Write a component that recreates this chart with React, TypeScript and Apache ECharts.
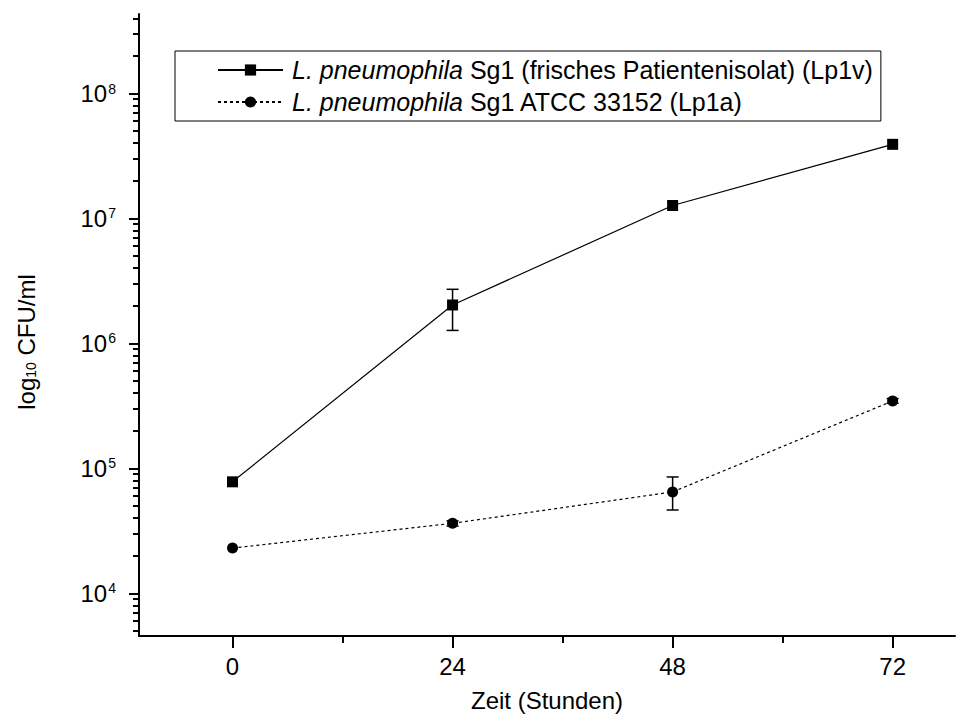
import React, { useEffect, useRef } from "react";
import * as echarts from "echarts";

// ---- data ----
const hours = [0, 24, 48, 72];
const seriesNames = [
  "L. pneumophila Sg1 (frisches Patientenisolat) (Lp1v)",
  "L. pneumophila Sg1 ATCC 33152 (Lp1a)",
];
const lp1v = [7.8e4, 2.03e6, 1.27e7, 3.92e7];
const lp1a = [2.3e4, 3.63e4, 6.47e4, 3.46e5];
// [hour, low, high]
const lp1vErrors = [[24, 1.27e6, 2.71e6]];
const lp1aErrors = [
  [24, 3.45e4, 3.8e4],
  [48, 4.64e4, 8.53e4],
  [72, 3.32e5, 3.62e5],
];
const xMajorTicks = [0, 24, 48, 72];
const xMinorTicks = [12, 36, 60];
const yMajorTicks = [1e4, 1e5, 1e6, 1e7, 1e8];
const yMinorTicks = [
  5e3, 6e3, 7e3, 8e3, 9e3,
  2e4, 3e4, 4e4, 5e4, 6e4, 7e4, 8e4, 9e4,
  2e5, 3e5, 4e5, 5e5, 6e5, 7e5, 8e5, 9e5,
  2e6, 3e6, 4e6, 5e6, 6e6, 7e6, 8e6, 9e6,
  2e7, 3e7, 4e7, 5e7, 6e7, 7e7, 8e7, 9e7,
  2e8, 3e8, 4e8,
];
const xMin = -10.2;
const xMax = 78.8;
const yMin = 4550;
const yMax = 4.33e8;

const FONT = "'Liberation Sans', Arial, Helvetica, sans-serif";
const lg = (v: number) => Math.log10(v);

export default function App() {
  const ref = useRef<HTMLDivElement>(null);
  useEffect(() => {
    if (!ref.current) return;
    const chart = echarts.init(ref.current, undefined, { renderer: "svg" });

    const errRender = (params: any, api: any) => {
      const x = api.value(0);
      const lo = api.value(1);
      const hi = api.value(2);
      const pLo = api.coord([x, lo]);
      const pHi = api.coord([x, hi]);
      const w = 6;
      const style = { stroke: "#000", lineWidth: 1.5 };
      return {
        type: "group",
        children: [
          { type: "line", shape: { x1: pLo[0], y1: pLo[1], x2: pHi[0], y2: pHi[1] }, style },
          { type: "line", shape: { x1: pLo[0] - w, y1: pLo[1], x2: pLo[0] + w, y2: pLo[1] }, style },
          { type: "line", shape: { x1: pHi[0] - w, y1: pHi[1], x2: pHi[0] + w, y2: pHi[1] }, style },
        ],
      };
    };

    const yAxisBase = {
      type: "value",
      min: lg(yMin),
      max: lg(yMax),
      position: "left",
      splitLine: { show: false },
    };
    const xAxisBase = {
      type: "value",
      min: xMin,
      max: xMax,
      position: "bottom",
      splitLine: { show: false },
    };

    chart.setOption({
      animation: false,
      backgroundColor: "#fff",
      textStyle: { fontFamily: FONT, color: "#000" },
      grid: { left: 139, right: 1, top: 14, bottom: 91, containLabel: false },
      legend: {
        data: seriesNames,
        orient: "vertical",
        left: 175,
        top: 51,
        padding: [5, 8, 5, 42],
        itemGap: 4,
        itemWidth: 65,
        itemHeight: 14,
        borderColor: "#000",
        borderWidth: 1,
        selectedMode: false,
        formatter: (name: string) => "{it|L. pneumophila}" + name.slice("L. pneumophila".length),
        textStyle: {
          fontFamily: FONT,
          fontSize: 25,
          color: "#000",
          lineHeight: 28,
          padding: [0, 0, 0, 4],
          rich: {
            it: { fontStyle: "italic", fontFamily: FONT, fontSize: 25, color: "#000", lineHeight: 28 },
          },
        },
      },
      xAxis: [
        {
          ...xAxisBase,
          axisLine: { show: true, onZero: false, lineStyle: { color: "#000", width: 2 } },
          axisTick: { show: true, customValues: xMajorTicks, length: 12, lineStyle: { color: "#000", width: 2 } },
          axisLabel: {
            show: true,
            customValues: xMajorTicks,
            margin: 18,
            fontSize: 24,
            fontFamily: FONT,
            color: "#000",
          },
          name: "Zeit (Stunden)",
          nameLocation: "middle",
          nameGap: 52,
          nameTextStyle: { fontSize: 24, fontFamily: FONT, color: "#000" },
        },
        {
          ...xAxisBase,
          axisLine: { show: false, onZero: false },
          axisTick: { show: true, customValues: xMinorTicks, length: 7, lineStyle: { color: "#000", width: 2 } },
          axisLabel: { show: false },
        },
      ],
      yAxis: [
        {
          ...yAxisBase,
          axisLine: { show: true, onZero: false, lineStyle: { color: "#000", width: 2 } },
          axisTick: {
            show: true,
            customValues: yMajorTicks.map(lg),
            length: 10,
            lineStyle: { color: "#000", width: 2 },
          },
          axisLabel: {
            show: true,
            customValues: yMajorTicks.map(lg),
            margin: 23,
            formatter: (v: number) => "10{sup|" + Math.round(v) + "}",
            fontSize: 24,
            fontFamily: FONT,
            color: "#000",
            rich: {
              sup: { fontSize: 14, fontFamily: FONT, color: "#000", verticalAlign: "top", padding: [0, 0, 0, 1] },
            },
          },
        },
        {
          ...yAxisBase,
          axisLine: { show: false, onZero: false },
          axisTick: {
            show: true,
            customValues: yMinorTicks.map(lg),
            length: 6,
            lineStyle: { color: "#000", width: 2 },
          },
          axisLabel: { show: false },
        },
      ],
      graphic: [
        {
          type: "text",
          x: 26,
          y: 342,
          rotation: Math.PI / 2,
          style: {
            text: "{n|log}{sub|10}{n| CFU/ml}",
            textAlign: "center",
            textVerticalAlign: "middle",
            fill: "#000",
            font: "24px " + FONT,
            rich: {
              n: { fontSize: 24, fontFamily: FONT, fill: "#000" },
              sub: { fontSize: 14, fontFamily: FONT, fill: "#000", verticalAlign: "bottom" },
            },
          },
        },
      ],
      series: [
        {
          name: "lp1v-err",
          type: "custom",
          xAxisIndex: 0,
          yAxisIndex: 0,
          data: lp1vErrors.map((d) => [d[0], lg(d[1]), lg(d[2])]),
          encode: { x: 0, y: [1, 2] },
          renderItem: errRender,
          z: 1,
          silent: true,
        },
        {
          name: "lp1a-err",
          type: "custom",
          xAxisIndex: 0,
          yAxisIndex: 0,
          data: lp1aErrors.map((d) => [d[0], lg(d[1]), lg(d[2])]),
          encode: { x: 0, y: [1, 2] },
          renderItem: errRender,
          z: 1,
          silent: true,
        },
        {
          name: seriesNames[0],
          type: "line",
          xAxisIndex: 0,
          yAxisIndex: 0,
          data: hours.map((h, i) => [h, lg(lp1v[i])]),
          symbol: "rect",
          symbolSize: 11,
          itemStyle: { color: "#000" },
          lineStyle: { color: "#000", width: 1.2, type: "solid" },
          z: 3,
        },
        {
          name: seriesNames[1],
          type: "line",
          xAxisIndex: 0,
          yAxisIndex: 0,
          data: hours.map((h, i) => [h, lg(lp1a[i])]),
          symbol: "circle",
          symbolSize: 11,
          itemStyle: { color: "#000" },
          lineStyle: { color: "#000", width: 1.2, type: [3, 3] },
          z: 3,
        },
      ],
    });
    return () => chart.dispose();
  }, []);
  return (
    <div
      ref={ref}
      style={{ position: "fixed", left: 0, top: 0, width: 956, height: 727, background: "#fff" }}
    />
  );
}
